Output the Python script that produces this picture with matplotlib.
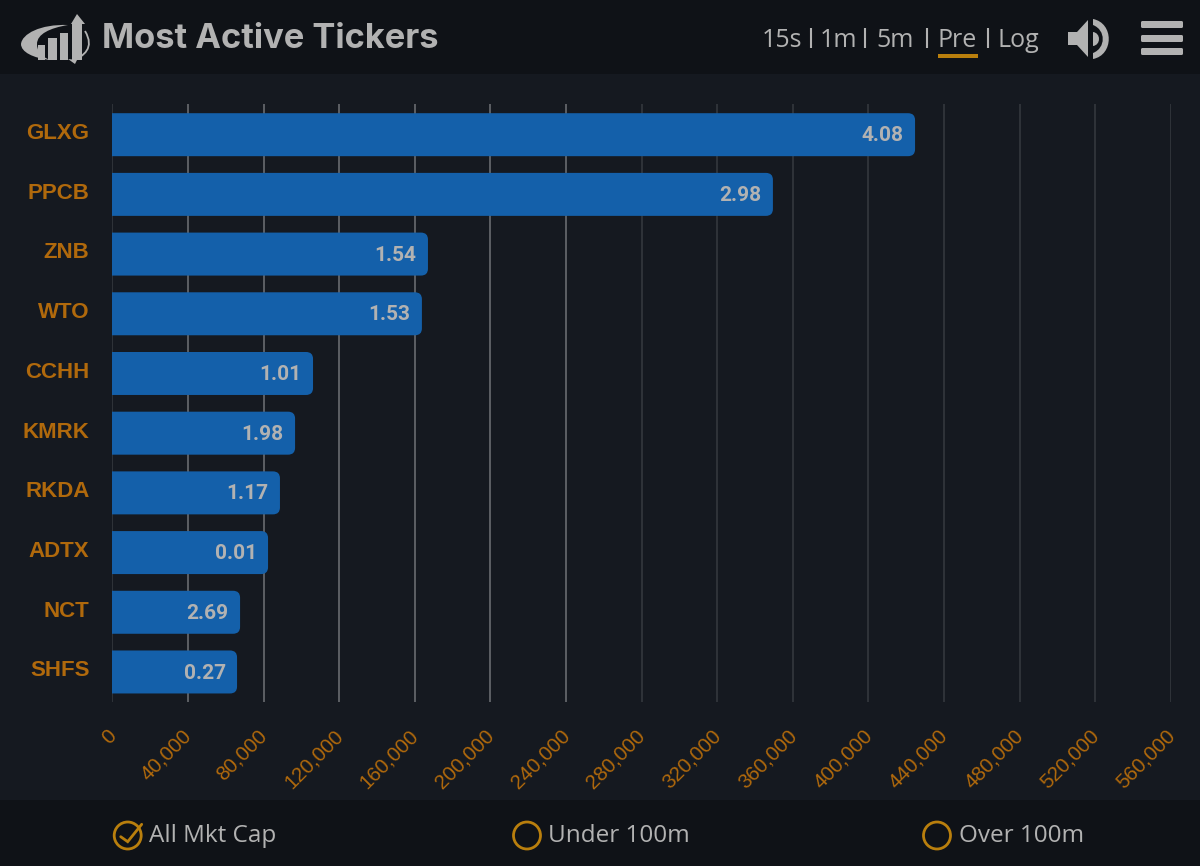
import matplotlib
matplotlib.use("Agg")
import matplotlib.pyplot as plt
from matplotlib.patches import FancyBboxPatch, Rectangle, Circle, Polygon, PathPatch
from matplotlib.path import Path
from matplotlib.transforms import ScaledTranslation

tickers = ["GLXG", "PPCB", "ZNB", "WTO", "CCHH", "KMRK", "RKDA", "ADTX", "NCT", "SHFS"]
volumes = [424700, 349500, 167000, 163800, 106200, 96700, 88700, 82400, 67600, 66000]
changes = ["4.08", "2.98", "1.54", "1.53", "1.01", "1.98", "1.17", "0.01", "2.69", "0.27"]
x_ticks = list(range(0, 560001, 40000))
timeframes = ["15s", "1m", "5m", "Pre", "Log"]
filters = ["All Mkt Cap", "Under 100m", "Over 100m"]

BG = "#151920"
BAR_BG = "#0F1217"
BLUE = "#1460AA"
ORANGE = "#B0690C"
GOLD = "#B97F0D"
GREY = "#B2B2B2"
W, H = 1200, 866

fig = plt.figure(figsize=(W / 100, H / 100), dpi=100, facecolor=BG)

# page chrome in pixel coordinates
ch = fig.add_axes([0, 0, 1, 1], zorder=0)
ch.set_xlim(0, W)
ch.set_ylim(H, 0)
ch.axis("off")
ch.add_patch(Rectangle((0, 0), W, 74, fc=BAR_BG, ec="none"))
ch.add_patch(Rectangle((0, 800), W, 66, fc=BAR_BG, ec="none"))

# logo
ch.add_patch(PathPatch(Path(
    [(68, 25), (40, 24), (22, 34), (21, 44), (21, 52), (33, 58), (50, 60), (40, 56), (37, 50), (37, 44), (37, 34), (50, 28), (68, 25)],
    [1, 4, 4, 4, 4, 4, 4, 4, 4, 4, 4, 4, 4]), fc=GREY, ec="none"))
for x0, top, wd in [(38, 45, 7), (48, 38, 9), (60, 33, 8), (72, 23, 10)]:
    ch.add_patch(Rectangle((x0, top), wd, 60 - top, fc=GREY, ec="none"))
ch.add_patch(Polygon([(71, 24), (77, 14), (85, 24)], fc=GREY, ec="none"))
ch.add_patch(PathPatch(Path([(85, 31), (95, 48), (84, 56), (72, 61)], [1, 4, 4, 4]), fc="none", ec=GREY, lw=1.3))
ch.add_patch(Polygon([(68, 59), (77, 60), (75, 64)], fc=GREY, ec="none"))

ch.text(102, 48.5, "Most Active Tickers", color=GREY, fontsize=24.8, family="Inter",
        weight="bold", va="baseline", ha="left")

# timeframe selector
tf_x = [762, 820, 876, 938, 998]
sep_x = [810.5, 865, 927, 987.5]
for t, x in zip(timeframes, tf_x):
    ch.text(x, 47, t, color=GREY, fontsize=18, family="Open Sans", va="baseline", ha="left")
for x in sep_x:
    ch.plot([x, x], [28, 48], color=GREY, lw=1.5, solid_capstyle="butt")
ch.add_patch(Rectangle((938, 54), 40, 4, fc=GOLD, ec="none"))

# speaker icon
ch.add_patch(Polygon([(1068, 32), (1077, 32), (1088, 20), (1088, 57), (1077, 45), (1068, 45)], fc=GREY, ec="none"))
ch.add_patch(PathPatch(Path([(1093, 32), (1101, 33), (1101, 45), (1093, 46), (1093, 32)], [1, 4, 4, 4, 2]), fc=GREY, ec="none"))
ch.add_patch(PathPatch(Path(
    [(1093, 19), (1114, 23), (1114, 55), (1093, 59), (1093, 53), (1106, 48), (1106, 30), (1093, 25), (1093, 19)],
    [1, 4, 4, 4, 2, 4, 4, 4, 2]), fc=GREY, ec="none"))

# menu icon
for y in (21, 35, 48):
    ch.add_patch(FancyBboxPatch((1141, y), 42, 7, boxstyle="round,pad=0,rounding_size=1.5", fc=GREY, ec="none"))

# filters
circle_x = [127.7, 527, 937]
text_x = [149, 548, 959]
for c, tx, label in zip(circle_x, text_x, filters):
    ch.add_patch(Circle((c, 835.5), 13.5, fc="none", ec=GOLD, lw=2.0))
    ch.text(tx, 842, label, color=GREY, fontsize=17.5, family="Open Sans", va="baseline", ha="left")
ch.plot([120.7, 127.7, 141.7], [836.7, 841.7, 824.3], color=GOLD, lw=2.0, solid_capstyle="round", solid_joinstyle="miter")

# chart
ax = fig.add_axes([112.3 / W, 1 - 702 / H, (1170.8 - 112.3) / W, (702 - 104) / H], zorder=1)
ax.patch.set_alpha(0)
ypos = list(range(len(tickers)))
ax.set_xlim(0, 560000)
ax.set_ylim(9.503, -0.514)
for s in ax.spines.values():
    s.set_visible(False)
ax.set_axisbelow(True)
ax.grid(axis="x", color="#5A5D62", lw=1.44)
ax.grid(axis="y", visible=False)
ax.get_xgridlines()[0].set_color("#2E3238")
bar_h = 0.72
r_x = 3700
r_y = 0.115
for y, v, c in zip(ypos, volumes, changes):
    # starts left of the axis and is clipped there, so only the right corners stay round
    ax.add_patch(FancyBboxPatch((-2 * r_x, y - bar_h / 2), v + 2 * r_x, bar_h,
                                boxstyle=f"round,pad=0,rounding_size={r_x}",
                                mutation_aspect=r_y / r_x, fc=BLUE, ec="none", zorder=2, snap=False))
    ax.annotate(c, (v, y), xytext=(-8.2, -0.8), textcoords="offset points", color=GREY, fontsize=15,
                family="Roboto", weight="bold", ha="right", va="center", zorder=3)

ax.set_yticks(ypos, tickers)
ax.tick_params(axis="y", length=0, pad=16.5, labelcolor=ORANGE, labelsize=16)
up = ScaledTranslation(0, 2.6 / 72, fig.dpi_scale_trans)
for t in ax.get_yticklabels():
    t.set_family("Liberation Sans")
    t.set_weight("bold")
    t.set_transform(t.get_transform() + up)
ax.set_xticks(x_ticks, [f"{v:,}" for v in x_ticks])
ax.tick_params(axis="x", length=0, pad=20, labelcolor=ORANGE, labelsize=14.8)
shift = ScaledTranslation(-4.2 / 72, 2.8 / 72, fig.dpi_scale_trans)
for t in ax.get_xticklabels():
    t.set_family("Liberation Sans")
    t.set_rotation(45)
    t.set_ha("right")
    t.set_rotation_mode("anchor")
    t.set_transform(t.get_transform() + shift)

fig.savefig("out.png", dpi=100, facecolor=BG)
